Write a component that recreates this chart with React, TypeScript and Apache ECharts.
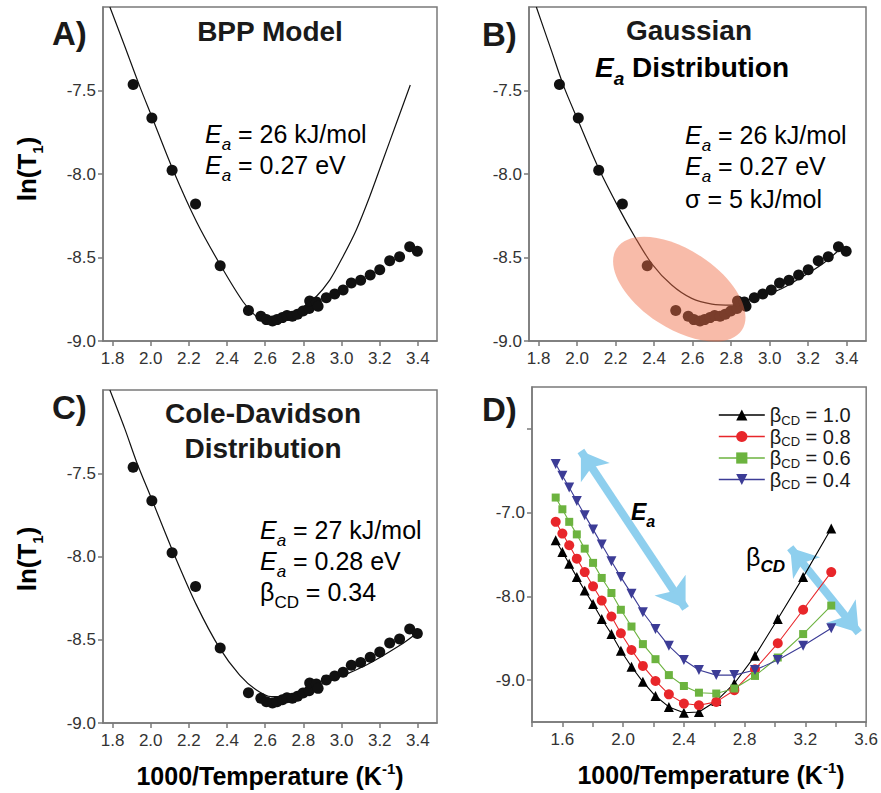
import React, { useEffect, useRef } from 'react';
import * as echarts from 'echarts';

const FONT = '"Liberation Sans", Arial, Helvetica, sans-serif';

// ---------- experimental data (panels A–C) ----------
const expX = [1.908, 2.006, 2.112, 2.235, 2.364, 2.512, 2.577, 2.606, 2.638, 2.662, 2.690, 2.714, 2.742, 2.769, 2.798, 2.830, 2.833, 2.868, 2.877, 2.920, 2.964, 3.008, 3.051, 3.100, 3.150, 3.200, 3.252, 3.304, 3.357, 3.397];
const expY = [-7.464, -7.665, -7.978, -8.180, -8.549, -8.818, -8.852, -8.872, -8.880, -8.872, -8.860, -8.848, -8.852, -8.840, -8.820, -8.806, -8.760, -8.766, -8.792, -8.741, -8.718, -8.695, -8.653, -8.636, -8.605, -8.574, -8.520, -8.496, -8.436, -8.463];

// ---------- fit curves ----------
const bppX = [1.786, 1.865, 1.943, 2.007, 2.117, 2.240, 2.365, 2.484, 2.554, 2.600, 2.650, 2.700, 2.750, 2.800, 2.859, 2.938, 3.007, 3.077, 3.147, 3.217, 3.287, 3.360];
const bppY = [-7.000, -7.238, -7.477, -7.660, -7.976, -8.286, -8.545, -8.765, -8.854, -8.877, -8.884, -8.870, -8.838, -8.795, -8.744, -8.635, -8.495, -8.335, -8.136, -7.916, -7.696, -7.467];

const gaussX = [1.788, 1.866, 1.932, 2.005, 2.109, 2.213, 2.300, 2.387, 2.491, 2.595, 2.700, 2.804, 2.908, 3.046, 3.168, 3.279, 3.360];
const gaussY = [-7.000, -7.260, -7.480, -7.680, -7.960, -8.197, -8.377, -8.536, -8.665, -8.745, -8.779, -8.785, -8.745, -8.695, -8.616, -8.534, -8.455];

const cdX = [1.786, 1.864, 1.926, 2.004, 2.117, 2.240, 2.362, 2.466, 2.554, 2.632, 2.700, 2.781, 2.955, 3.130, 3.304, 3.392];
const cdY = [-7.000, -7.232, -7.432, -7.652, -7.972, -8.292, -8.552, -8.712, -8.802, -8.842, -8.838, -8.815, -8.740, -8.652, -8.535, -8.462];

// ---------- simulations (panel D) ----------
const simX = [1.556, 1.600, 1.645, 1.695, 1.747, 1.802, 1.859, 1.923, 1.985, 2.055, 2.130, 2.213, 2.301, 2.400, 2.499, 2.613, 2.732, 2.868, 3.018, 3.185, 3.370];
const simB10 = [-7.33, -7.47, -7.61, -7.77, -7.93, -8.09, -8.27, -8.45, -8.65, -8.84, -9.02, -9.19, -9.32, -9.39, -9.38, -9.25, -9.04, -8.71, -8.27, -7.77, -7.19];
const simB08 = [-7.11, -7.25, -7.39, -7.55, -7.71, -7.88, -8.05, -8.24, -8.44, -8.64, -8.83, -9.01, -9.17, -9.28, -9.30, -9.26, -9.12, -8.87, -8.56, -8.16, -7.71];
const simB06 = [-6.82, -6.96, -7.11, -7.26, -7.43, -7.60, -7.78, -7.96, -8.16, -8.36, -8.57, -8.75, -8.94, -9.07, -9.15, -9.16, -9.10, -8.95, -8.73, -8.45, -8.11];
const simB04 = [-6.42, -6.56, -6.70, -6.86, -7.03, -7.20, -7.38, -7.58, -7.77, -7.97, -8.19, -8.39, -8.59, -8.76, -8.88, -8.94, -8.94, -8.88, -8.76, -8.59, -8.38];
const betaLabels = ['1.0', '0.8', '0.6', '0.4'];

// ---------- ticks ----------
const xTicksAC = [1.8, 2.0, 2.2, 2.4, 2.6, 2.8, 3.0, 3.2, 3.4];
const yTicksAC = [-9.0, -8.5, -8.0, -7.5];
const xTicksD = [1.4, 1.6, 1.8, 2.0, 2.2, 2.4, 2.6, 2.8, 3.0, 3.2, 3.4, 3.6];
const xLabelsD = [1.6, 2.0, 2.4, 2.8, 3.2, 3.6];
const yTicksD = [-9.0, -8.0, -7.0, -6.0];
const yLabelsD = [-9.0, -8.0, -7.0];

// ---------- annotation geometry (data units) ----------
const arrowEa = [[1.722, -6.265], [2.411, -8.145]];
const arrowBeta = [[3.100, -7.420], [3.551, -8.434]];
const ellipseAxis = [[2.205, -8.446], [2.856, -8.934]];
const ellipseRatio = 0.525;

const pairs = (xs: number[], ys: number[]) => xs.map((x, i) => [x, ys[i]]);

const AX = '#7a7a7a';
const TXT = '#1a1a1a';

function xAxisCfg(grid: number, min: number, max: number, ticks: number[], labels: number[]) {
  return {
    type: 'value', gridIndex: grid, min, max,
    axisLine: { show: true, onZero: false, lineStyle: { color: AX, width: 1.5 } },
    axisTick: { show: true, length: 5, customValues: ticks, lineStyle: { color: AX, width: 1.5 } },
    axisLabel: { customValues: labels, color: '#333', fontSize: 17, fontFamily: FONT, margin: 9, formatter: (v: number) => v.toFixed(1) },
    splitLine: { show: false },
  };
}
function yAxisCfg(grid: number, min: number, max: number, ticks: number[], labels: number[]) {
  return {
    type: 'value', gridIndex: grid, min, max,
    axisLine: { show: true, onZero: false, lineStyle: { color: AX, width: 1.5 } },
    axisTick: { show: true, length: 5, customValues: ticks, lineStyle: { color: AX, width: 1.5 } },
    axisLabel: { customValues: labels, color: '#333', fontSize: 17, fontFamily: FONT, margin: 7, formatter: (v: number) => v.toFixed(1) },
    splitLine: { show: false },
  };
}

const richBase = {
  n: { fontSize: 25, fontFamily: FONT, color: TXT, lineHeight: 38 },
  i: { fontSize: 25, fontFamily: FONT, fontStyle: 'italic', color: TXT, lineHeight: 38 },
  is: { fontSize: 17, fontFamily: FONT, fontStyle: 'italic', color: TXT, verticalAlign: 'bottom' },
  s: { fontSize: 17, fontFamily: FONT, color: TXT, verticalAlign: 'bottom' },
  p: { fontSize: 25, fontFamily: FONT, color: TXT, lineHeight: 26 },
};

function annot(x: number, y: number, text: string) {
  return {
    type: 'text', x, y, z: 100,
    style: { text, rich: richBase, verticalAlign: 'middle', align: 'left' },
  };
}
function plain(x: number, y: number, text: string, size: number, align = 'center') {
  return {
    type: 'text', x, y, z: 100,
    style: { text, fontSize: size, fontWeight: 'bold', fontFamily: FONT, fill: TXT, align, verticalAlign: 'middle' },
  };
}
const axisNameRich = {
  n: { fontSize: 25, fontWeight: 'bold', fontFamily: FONT, color: TXT, lineHeight: 30 },
  p: { fontSize: 15, fontWeight: 'bold', fontFamily: FONT, color: TXT, verticalAlign: 'top' },
};
const lnRich = {
  n: { fontSize: 26, fontWeight: 'bold', fontFamily: FONT, color: TXT, lineHeight: 36 },
  s: { fontSize: 15, fontWeight: 'bold', fontFamily: FONT, color: TXT, verticalAlign: 'bottom' },
};

const grids = [
  { left: 103, top: 7, width: 334, height: 334 },
  { left: 529, top: 7, width: 337, height: 334 },
  { left: 103, top: 390, width: 334, height: 333 },
  { left: 532, top: 387, width: 335, height: 335 },
].map((g) => ({ ...g, show: true, borderColor: AX, borderWidth: 1.5, backgroundColor: 'transparent' }));

const curveStyle = { color: '#111', width: 1.2 };
const dotStyle = { color: '#111', opacity: 1 };

function ellipseRender(params: any, api: any) {
  const p1 = api.coord(ellipseAxis[0]);
  const p2 = api.coord(ellipseAxis[1]);
  const cx = (p1[0] + p2[0]) / 2;
  const cy = (p1[1] + p2[1]) / 2;
  const a = Math.hypot(p2[0] - p1[0], p2[1] - p1[1]) / 2;
  const ang = Math.atan2(p2[1] - p1[1], p2[0] - p1[0]);
  return {
    type: 'ellipse',
    x: cx, y: cy, rotation: -ang,
    shape: { cx: 0, cy: 0, rx: a, ry: a * ellipseRatio },
    style: { fill: 'rgba(240, 110, 72, 0.47)' },
  };
}

const simSeries = [
  { name: 'b10', data: simB10, color: '#000000', symbol: 'triangle', size: 10, rot: 0 },
  { name: 'b08', data: simB08, color: '#e8262a', symbol: 'circle', size: 10, rot: 0 },
  { name: 'b06', data: simB06, color: '#6cb33f', symbol: 'rect', size: 8, rot: 0 },
  { name: 'b04', data: simB04, color: '#3c3c96', symbol: 'triangle', size: 10, rot: 180 },
];

const ARROW = '#8ecfee';

const option: any = {
  animation: false,
  backgroundColor: '#ffffff',
  grid: grids,
  xAxis: [
    xAxisCfg(0, 1.75, 3.5, xTicksAC, xTicksAC),
    xAxisCfg(1, 1.75, 3.5, xTicksAC, xTicksAC),
    xAxisCfg(2, 1.75, 3.5, xTicksAC, xTicksAC),
    xAxisCfg(3, 1.4, 3.6, xTicksD, xLabelsD),
  ],
  yAxis: [
    yAxisCfg(0, -9.0, -7.0, yTicksAC, yTicksAC),
    yAxisCfg(1, -9.0, -7.0, yTicksAC, yTicksAC),
    yAxisCfg(2, -9.0, -7.0, yTicksAC, yTicksAC),
    yAxisCfg(3, -9.5, -5.5, yTicksD, yLabelsD),
  ],
  legend: {
    data: simSeries.map((s) => s.name),
    orient: 'vertical',
    left: 713,
    top: 400,
    itemWidth: 46,
    itemHeight: 14,
    itemGap: 0,
    lineStyle: { width: 1.6 },
    formatter: (name: string) => {
      const idx = simSeries.findIndex((s) => s.name === name);
      return `{b|β}{s|CD}{t| = ${betaLabels[idx]}}`;
    },
    textStyle: {
      rich: {
        b: { fontSize: 20, fontFamily: FONT, color: TXT, lineHeight: 23 },
        s: { fontSize: 13, fontFamily: FONT, color: TXT, verticalAlign: 'bottom' },
        t: { fontSize: 20, fontFamily: FONT, color: TXT, lineHeight: 23 },
      },
    },
  },
  series: [
    // Panel A
    { type: 'line', xAxisIndex: 0, yAxisIndex: 0, data: pairs(bppX, bppY), showSymbol: false, smooth: 0.3, lineStyle: curveStyle, z: 2 },
    { type: 'scatter', xAxisIndex: 0, yAxisIndex: 0, data: pairs(expX, expY), symbolSize: 11, itemStyle: dotStyle, z: 3 },
    // Panel B
    { type: 'line', xAxisIndex: 1, yAxisIndex: 1, data: pairs(gaussX, gaussY), showSymbol: false, smooth: 0.3, lineStyle: curveStyle, z: 2 },
    { type: 'scatter', xAxisIndex: 1, yAxisIndex: 1, data: pairs(expX, expY), symbolSize: 11, itemStyle: dotStyle, z: 3 },
    { type: 'custom', xAxisIndex: 1, yAxisIndex: 1, data: [[2.53, -8.69]], renderItem: ellipseRender, z: 5, silent: true },
    // Panel C
    { type: 'line', xAxisIndex: 2, yAxisIndex: 2, data: pairs(cdX, cdY), showSymbol: false, smooth: 0.3, lineStyle: curveStyle, z: 2 },
    { type: 'scatter', xAxisIndex: 2, yAxisIndex: 2, data: pairs(expX, expY), symbolSize: 11, itemStyle: dotStyle, z: 3 },
    // Panel D arrows
    {
      type: 'lines', coordinateSystem: 'cartesian2d', xAxisIndex: 3, yAxisIndex: 3, z: 1,
      symbol: ['arrow', 'arrow'], symbolSize: [26, 28],
      lineStyle: { color: ARROW, width: 8, opacity: 1, curveness: 0 },
      data: [{ coords: arrowEa }, { coords: arrowBeta }],
    },
    // Panel D simulations
    ...simSeries.map((s) => ({
      type: 'line', name: s.name, xAxisIndex: 3, yAxisIndex: 3,
      data: pairs(simX, s.data),
      symbol: s.symbol, symbolSize: s.size, symbolRotate: s.rot, showSymbol: true,
      lineStyle: { color: s.color, width: 1.1 },
      itemStyle: { color: s.color, opacity: 1 },
      z: 4,
    })),
  ],
  graphic: [
    plain(52, 33, 'A)', 33, 'left'),
    plain(482, 34, 'B)', 33, 'left'),
    plain(52, 407, 'C)', 33, 'left'),
    plain(482, 409, 'D)', 33, 'left'),
    plain(270, 31, 'BPP Model', 28),
    plain(689, 30, 'Gaussian', 28),
    {
      type: 'text', x: 692, y: 67, z: 100,
      style: {
        text: '{e|E}{a|a}{n| Distribution}', align: 'center', verticalAlign: 'middle',
        rich: {
          e: { fontSize: 28, fontWeight: 'bold', fontStyle: 'italic', fontFamily: FONT, color: TXT, lineHeight: 42 },
          a: { fontSize: 19, fontWeight: 'bold', fontStyle: 'italic', fontFamily: FONT, color: TXT, verticalAlign: 'bottom' },
          n: { fontSize: 28, fontWeight: 'bold', fontFamily: FONT, color: TXT, lineHeight: 42 },
        },
      },
    },
    plain(263, 413, 'Cole-Davidson', 28),
    plain(263, 448, 'Distribution', 28),
    annot(205, 134, '{i|E}{is|a}{n| = 26 kJ/mol}'),
    annot(205, 165, '{i|E}{is|a}{n| = 0.27 eV}'),
    annot(685, 135, '{i|E}{is|a}{n| = 26 kJ/mol}'),
    annot(685, 166, '{i|E}{is|a}{n| = 0.27 eV}'),
    annot(685, 199, '{p|σ = 5 kJ/mol}'),
    annot(260, 530, '{i|E}{is|a}{n| = 27 kJ/mol}'),
    annot(260, 561, '{i|E}{is|a}{n| = 0.28 eV}'),
    annot(260, 592, '{n|β}{s|CD}{n| = 0.34}'),
    {
      type: 'text', x: 27, y: 169, rotation: Math.PI / 2, z: 100,
      style: { text: '{n|ln(T}{s|1}{n|)}', rich: lnRich, align: 'center', verticalAlign: 'middle' },
    },
    {
      type: 'text', x: 27, y: 559, rotation: Math.PI / 2, z: 100,
      style: { text: '{n|ln(T}{s|1}{n|)}', rich: lnRich, align: 'center', verticalAlign: 'middle' },
    },
    {
      type: 'text', x: 270, y: 776, z: 100,
      style: { text: '{n|1000/Temperature (K}{p|-1}{n|)}', rich: axisNameRich, align: 'center', verticalAlign: 'middle' },
    },
    {
      type: 'text', x: 711, y: 775, z: 100,
      style: { text: '{n|1000/Temperature (K}{p|-1}{n|)}', rich: axisNameRich, align: 'center', verticalAlign: 'middle' },
    },
    {
      type: 'text', x: 631, y: 512, z: 100,
      style: {
        text: '{e|E}{a|a}', align: 'left', verticalAlign: 'middle',
        rich: {
          e: { fontSize: 23, fontWeight: 'bold', fontStyle: 'italic', fontFamily: FONT, color: TXT, lineHeight: 34 },
          a: { fontSize: 16, fontWeight: 'bold', fontStyle: 'italic', fontFamily: FONT, color: TXT, verticalAlign: 'bottom' },
        },
      },
    },
    {
      type: 'text', x: 746, y: 557, z: 100,
      style: {
        text: '{b|β}{c|CD}', align: 'left', verticalAlign: 'middle',
        rich: {
          b: { fontSize: 25, fontFamily: FONT, color: TXT, lineHeight: 36 },
          c: { fontSize: 17, fontWeight: 'bold', fontStyle: 'italic', fontFamily: FONT, color: TXT, verticalAlign: 'bottom' },
        },
      },
    },
  ],
};

export default function App() {
  const ref = useRef<HTMLDivElement>(null);
  useEffect(() => {
    const chart = echarts.init(ref.current!, null, { renderer: 'svg' });
    chart.setOption(option);
    return () => chart.dispose();
  }, []);
  return (
    <div
      ref={ref}
      style={{ position: 'absolute', left: 0, top: 0, width: 881, height: 793, background: '#ffffff' }}
    />
  );
}
